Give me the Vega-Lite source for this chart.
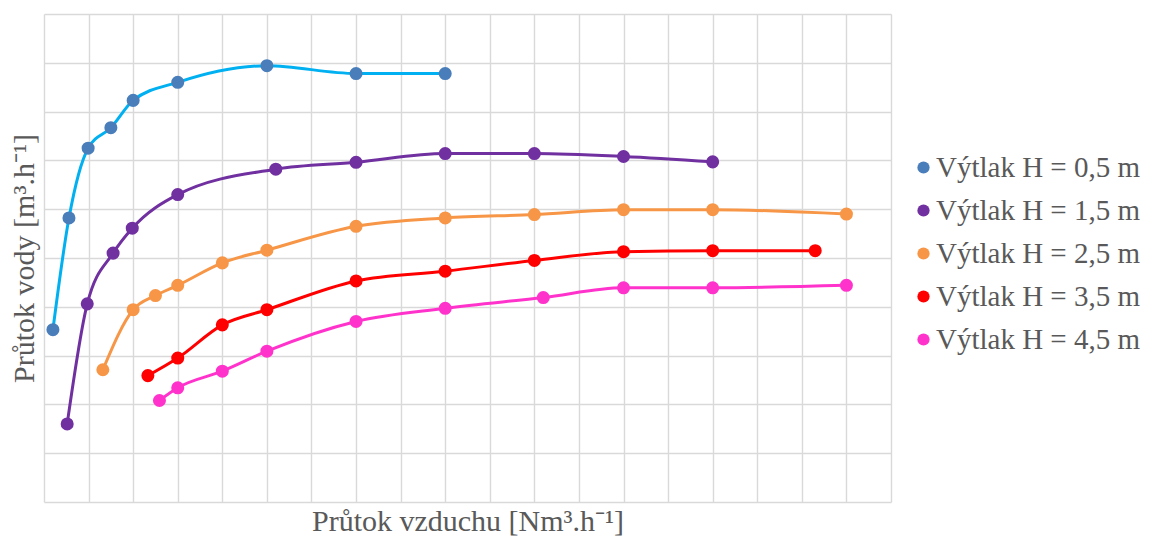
{
  "$schema": "https://vega.github.io/schema/vega-lite/v6.json",
  "autosize": "none",
  "width": 847,
  "height": 488,
  "padding": {"left": 44, "top": 14, "right": 259, "bottom": 38},
  "background": "white",
  "config": {
    "view": {"stroke": null},
    "font": "Liberation Serif",
    "axis": {
      "grid": true,
      "gridColor": "#D9D9D9",
      "gridWidth": 1.4,
      "domain": false,
      "ticks": false,
      "labels": false,
      "titleFont": "Liberation Serif",
      "titleFontSize": 30,
      "titleFontWeight": "normal",
      "titleColor": "#595959"
    },
    "legend": {
      "labelFont": "Liberation Serif",
      "labelFontSize": 29,
      "labelColor": "#595959",
      "labelLimit": 0
    }
  },
  "data": {
    "values": [
      {"series": "Výtlak H = 0,5 m", "q_air": 0.2, "q_water": 3.53},
      {"series": "Výtlak H = 0,5 m", "q_air": 0.56, "q_water": 5.82},
      {"series": "Výtlak H = 0,5 m", "q_air": 0.99, "q_water": 7.25},
      {"series": "Výtlak H = 0,5 m", "q_air": 1.5, "q_water": 7.67},
      {"series": "Výtlak H = 0,5 m", "q_air": 2.0, "q_water": 8.23},
      {"series": "Výtlak H = 0,5 m", "q_air": 3.0, "q_water": 8.6},
      {"series": "Výtlak H = 0,5 m", "q_air": 5.0, "q_water": 8.94},
      {"series": "Výtlak H = 0,5 m", "q_air": 7.0, "q_water": 8.78},
      {"series": "Výtlak H = 0,5 m", "q_air": 9.0, "q_water": 8.78},

      {"series": "Výtlak H = 1,5 m", "q_air": 0.52, "q_water": 1.6},
      {"series": "Výtlak H = 1,5 m", "q_air": 0.97, "q_water": 4.06},
      {"series": "Výtlak H = 1,5 m", "q_air": 1.55, "q_water": 5.1},
      {"series": "Výtlak H = 1,5 m", "q_air": 1.98, "q_water": 5.61},
      {"series": "Výtlak H = 1,5 m", "q_air": 3.0, "q_water": 6.3},
      {"series": "Výtlak H = 1,5 m", "q_air": 5.2, "q_water": 6.82},
      {"series": "Výtlak H = 1,5 m", "q_air": 7.0, "q_water": 6.96},
      {"series": "Výtlak H = 1,5 m", "q_air": 9.0, "q_water": 7.14},
      {"series": "Výtlak H = 1,5 m", "q_air": 11.0, "q_water": 7.14},
      {"series": "Výtlak H = 1,5 m", "q_air": 13.0, "q_water": 7.08},
      {"series": "Výtlak H = 1,5 m", "q_air": 15.0, "q_water": 6.97},

      {"series": "Výtlak H = 2,5 m", "q_air": 1.32, "q_water": 2.71},
      {"series": "Výtlak H = 2,5 m", "q_air": 2.0, "q_water": 3.94},
      {"series": "Výtlak H = 2,5 m", "q_air": 2.5, "q_water": 4.23},
      {"series": "Výtlak H = 2,5 m", "q_air": 3.0, "q_water": 4.44},
      {"series": "Výtlak H = 2,5 m", "q_air": 4.0, "q_water": 4.9},
      {"series": "Výtlak H = 2,5 m", "q_air": 5.0, "q_water": 5.16},
      {"series": "Výtlak H = 2,5 m", "q_air": 7.0, "q_water": 5.65},
      {"series": "Výtlak H = 2,5 m", "q_air": 9.0, "q_water": 5.82},
      {"series": "Výtlak H = 2,5 m", "q_air": 11.0, "q_water": 5.89},
      {"series": "Výtlak H = 2,5 m", "q_air": 13.0, "q_water": 5.99},
      {"series": "Výtlak H = 2,5 m", "q_air": 15.0, "q_water": 5.99},
      {"series": "Výtlak H = 2,5 m", "q_air": 18.0, "q_water": 5.9},

      {"series": "Výtlak H = 3,5 m", "q_air": 2.33, "q_water": 2.59},
      {"series": "Výtlak H = 3,5 m", "q_air": 3.0, "q_water": 2.95},
      {"series": "Výtlak H = 3,5 m", "q_air": 4.0, "q_water": 3.63},
      {"series": "Výtlak H = 3,5 m", "q_air": 5.0, "q_water": 3.94},
      {"series": "Výtlak H = 3,5 m", "q_air": 7.0, "q_water": 4.53},
      {"series": "Výtlak H = 3,5 m", "q_air": 9.0, "q_water": 4.73},
      {"series": "Výtlak H = 3,5 m", "q_air": 11.0, "q_water": 4.95},
      {"series": "Výtlak H = 3,5 m", "q_air": 13.0, "q_water": 5.13},
      {"series": "Výtlak H = 3,5 m", "q_air": 15.0, "q_water": 5.15},
      {"series": "Výtlak H = 3,5 m", "q_air": 17.3, "q_water": 5.15},

      {"series": "Výtlak H = 4,5 m", "q_air": 2.59, "q_water": 2.08},
      {"series": "Výtlak H = 4,5 m", "q_air": 3.0, "q_water": 2.34},
      {"series": "Výtlak H = 4,5 m", "q_air": 4.0, "q_water": 2.68},
      {"series": "Výtlak H = 4,5 m", "q_air": 5.0, "q_water": 3.09},
      {"series": "Výtlak H = 4,5 m", "q_air": 7.0, "q_water": 3.7},
      {"series": "Výtlak H = 4,5 m", "q_air": 9.0, "q_water": 3.97},
      {"series": "Výtlak H = 4,5 m", "q_air": 11.2, "q_water": 4.19},
      {"series": "Výtlak H = 4,5 m", "q_air": 13.0, "q_water": 4.39},
      {"series": "Výtlak H = 4,5 m", "q_air": 15.0, "q_water": 4.39},
      {"series": "Výtlak H = 4,5 m", "q_air": 18.0, "q_water": 4.44}
    ]
  },
  "encoding": {
    "x": {
      "field": "q_air",
      "type": "quantitative",
      "title": "Průtok vzduchu [Nm³.h⁻¹]",
      "scale": {"domain": [0, 19], "nice": false, "zero": false},
      "axis": {"values": [0,1,2,3,4,5,6,7,8,9,10,11,12,13,14,15,16,17,18,19], "titlePadding": 4}
    },
    "y": {
      "field": "q_water",
      "type": "quantitative",
      "title": "Průtok vody [m³.h⁻¹]",
      "scale": {"domain": [0, 10], "nice": false, "zero": false},
      "axis": {"values": [0,1,2,3,4,5,6,7,8,9,10], "titlePadding": 5}
    }
  },
  "layer": [
    {
      "transform": [{"filter": "datum.series === 'Výtlak H = 0,5 m'"}],
      "mark": {"type": "line", "interpolate": "monotone", "strokeWidth": 3, "color": "#00B0F0"}
    },
    {
      "transform": [{"filter": "datum.series === 'Výtlak H = 1,5 m'"}],
      "mark": {"type": "line", "interpolate": "monotone", "strokeWidth": 3, "color": "#7030A0"}
    },
    {
      "transform": [{"filter": "datum.series === 'Výtlak H = 2,5 m'"}],
      "mark": {"type": "line", "interpolate": "monotone", "strokeWidth": 3, "color": "#F79646"}
    },
    {
      "transform": [{"filter": "datum.series === 'Výtlak H = 3,5 m'"}],
      "mark": {"type": "line", "interpolate": "monotone", "strokeWidth": 3, "color": "#FF0000"}
    },
    {
      "transform": [{"filter": "datum.series === 'Výtlak H = 4,5 m'"}],
      "mark": {"type": "line", "interpolate": "monotone", "strokeWidth": 3, "color": "#FF33CC"}
    },
    {
      "mark": {"type": "point", "filled": true, "size": 170, "opacity": 1},
      "encoding": {
        "color": {
          "field": "series",
          "type": "nominal",
          "title": null,
          "scale": {
            "domain": ["Výtlak H = 0,5 m", "Výtlak H = 1,5 m", "Výtlak H = 2,5 m", "Výtlak H = 3,5 m", "Výtlak H = 4,5 m"],
            "range": ["#4A7EBB", "#7030A0", "#F79646", "#FF0000", "#FF33CC"]
          },
          "legend": {
            "orient": "none",
            "legendX": 865,
            "legendY": 139,
            "padding": 0,
            "symbolType": "circle",
            "symbolSize": 150,
            "symbolOpacity": 1,
            "symbolStrokeWidth": 0,
            "labelOffset": -2,
            "rowPadding": 13
          }
        }
      }
    }
  ]
}
